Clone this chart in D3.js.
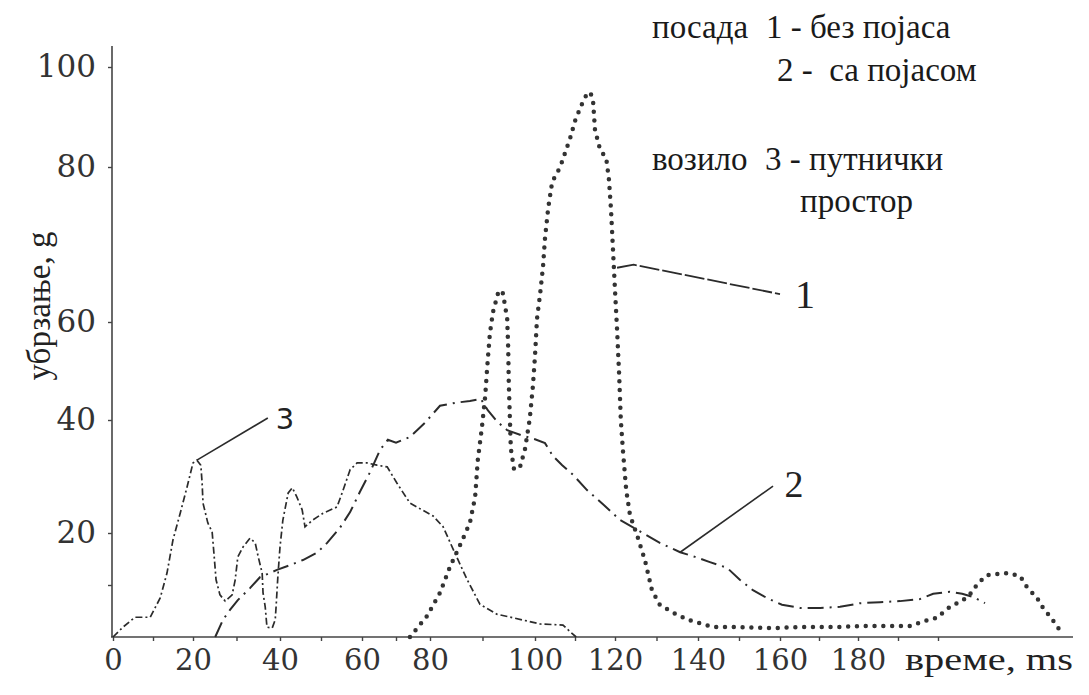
<!DOCTYPE html>
<html><head><meta charset="utf-8">
<script src="https://cdn.jsdelivr.net/npm/d3@7"></script>
<style>body{margin:0;background:#fff} svg{display:block}</style>
</head><body>
<svg id="chart" width="1089" height="695"></svg>
<script>
// ---------- data ----------
const xTicks = [0,10,20,30,40,50,60,70,80,90,100,110,120,130,140,150,160,170,180,190,200];
const xTickLabels = [0,20,40,60,80,100,120,140,160,180];
const yTicks = [10,20,40,60,80,100];
const yTickLabels = [20,40,60,80,100];
const xKnots = [0,20,40,60,80,100,120,140,160,180,200,230];
const yKnots = [0,20,40,60,80,100,104];

// series 1: crew without belt (time ms, acceleration g)
const crewNoBelt = [[74.1,0],[79.1,4.0],[81.9,8.5],[83.8,13.5],[86.1,18.5],[87.6,21.8],[88.6,26.4],[89.1,32.9],[89.9,38.8],[90.5,44.7],[90.9,50.8],[91.4,57.6],[92.0,61.3],[93.1,64.1],[93.9,63.7],[94.7,60.4],[94.9,54.5],[95.0,47.8],[95.2,40.8],[95.4,34.9],[96.0,31.3],[97.1,31.5],[98.1,34.9],[99.0,40.2],[99.6,46.9],[100,53.1],[100.5,60.4],[101.3,63.7],[102,67.1],[102.5,70.8],[103.3,74.7],[104.3,78.1],[106.3,80],[108.8,85.8],[110,89.2],[111.3,91.8],[112.5,94],[113.8,95],[114.5,93.4],[115,87.4],[116.3,83.4],[117.8,81.8],[118.5,78.3],[119,74.5],[119.5,69.3],[120,64.1],[120.5,58.4],[121,49.2],[121.4,40],[121.9,34.7],[122.7,27.6],[123.6,23.2],[125.3,19.6],[127.2,14.8],[128.9,9.0],[130.8,6.2],[133.7,4.8],[137.6,3.3],[143.7,1.9],[150.2,1.9],[157.6,1.7],[165.1,1.9],[174.1,1.9],[180.5,2.1],[186,2.1],[193,2.1],[196.8,3.1],[199.8,3.7],[202.1,5.4],[204.5,6.5],[207.1,7.7],[209.5,10.4],[211.6,11.9],[216.3,12.3],[219.4,11.7],[221.0,9.6],[223.4,7.5],[224.8,5.6],[226.9,3.5],[228.8,1.3]];

// series 2: crew with belt
const crewWithBelt = [[25.1,0],[26.9,3.3],[28.5,5.2],[30.3,7.1],[33.1,9.4],[35.4,11.5],[39.3,12.9],[42.4,13.8],[45.6,14.8],[49.0,16.2],[51.5,18.1],[54.6,20.9],[57.1,23.7],[59.5,27.3],[62.4,30.8],[65.3,34.7],[67.6,36.5],[70.0,36.0],[74.1,37.0],[78.5,39.5],[81.9,42.9],[84.8,43.5],[87.6,43.9],[89.7,44.3],[91.0,42.0],[92.7,39.8],[94.7,38.2],[97.7,37.2],[100,36.6],[102.5,35.9],[104.5,33.6],[106.8,32.0],[109.5,30.3],[113.0,27.6],[117,25.1],[121.2,22.3],[125.3,20.6],[130.8,18.1],[135.7,16.3],[139.3,15.4],[142.9,14.4],[147.1,13.3],[150.2,11.0],[153.4,9.0],[156.8,7.5],[160.5,6.2],[165.1,5.6],[170.3,5.6],[175.4,5.8],[180.5,6.5],[185.5,6.7],[190.5,6.9],[195.5,7.3],[198.8,8.3],[202.8,8.7],[205.7,8.3],[208.3,7.7],[211.1,6.5]];

// series 3: vehicle passenger compartment
const vehicleCompartment = [[0,0],[2.5,1.9],[5.5,3.8],[9.3,3.8],[11.8,7.5],[13.5,12.3],[15,18.7],[16.8,23.5],[18.5,28.1],[20,32.4],[20.9,32.9],[21.8,32.0],[22.1,28.8],[22.3,25.3],[23.4,21.8],[24.4,20.2],[24.8,16.2],[25.3,11.0],[26.2,8.1],[27.4,6.9],[29.0,8.1],[29.7,11.0],[30.3,15.4],[31.5,17.3],[33.1,19.0],[34.3,18.1],[35.0,15.4],[35.9,12.3],[36.1,8.5],[36.6,5.8],[37.0,1.9],[38.2,1.7],[38.9,3.3],[39.1,5.8],[39.5,11.5],[40,17.3],[40.7,22.3],[42,27.1],[43,28.0],[44.1,26.4],[45.4,24.1],[46.1,21.1],[48.0,22.3],[50.5,23.5],[53.9,24.6],[55.4,27.6],[57.1,31.2],[58.8,32.4],[61.5,32.4],[64.4,32.0],[67.4,31.7],[70.3,28.8],[74.1,25.3],[80.6,23.0],[82.5,21.1],[84.4,16.9],[87.0,11.2],[89.5,6.3],[92.7,4.4],[95.8,3.7],[101.3,2.5],[107,2.3],[108.8,1.0],[110.3,0]];

// annotation leaders (data coordinates)
const leader1 = [[120.5,67.0],[124.5,67.4],[160,63.6]];
const leader2 = [[135.7,16.3],[158.3,28.3]];
const leader3 = [[20.9,32.9],[37.2,40.4]];
const legendLines = [
  ["посада", "1 - без појаса"],
  ["", "2 -  са појасом"],
  ["возило", "3 - путнички"],
  ["", "простор"]
];

// ---------- drawing ----------
const svg = d3.select("#chart");
svg.append("rect").attr("width",1089).attr("height",695).attr("fill","#fff");

const x = d3.scaleLinear().domain(xKnots)
  .range([113,193,280,362,430,535,615,698,780,858,938,1065]);
const y = d3.scaleLinear().domain(yKnots)
  .range([637,533,420,322,167,67,46]);

const ink = "#2b2b2b";

// axes
const xAxis = d3.axisBottom(x).tickValues(xTicks)
  .tickFormat(d => xTickLabels.includes(d) ? d : "")
  .tickSize(4).tickSizeOuter(0).tickPadding(8);
const gx = svg.append("g").attr("transform",`translate(0,${y(0)})`).call(xAxis);
gx.select(".domain").attr("d",`M${x(0)-2},0H${x(230)+8}`).attr("stroke","#444").attr("stroke-width",1.6);
gx.selectAll(".tick line").attr("stroke","#444").attr("stroke-width",1.4);
gx.selectAll(".tick text").attr("font-family","DejaVu Serif").attr("font-size",29).attr("fill","#333");

const yAxis = d3.axisLeft(y).tickValues(yTicks)
  .tickFormat(d => yTickLabels.includes(d) ? d : "")
  .tickSize(4).tickSizeOuter(0).tickPadding(12);
const gy = svg.append("g").attr("transform",`translate(${x(0)-1},0)`).call(yAxis);
gy.select(".domain").attr("d",`M0,${y(0)}V${y(104)}`).attr("stroke","#444").attr("stroke-width",1.6);
gy.selectAll(".tick line").attr("stroke","#444").attr("stroke-width",1.4);
gy.selectAll(".tick text").attr("font-family","DejaVu Serif").attr("font-size",31).attr("fill","#333");

// axis titles
svg.append("text").attr("transform",`translate(50,306) rotate(-90)`)
  .attr("text-anchor","middle").attr("font-family","Liberation Serif").attr("font-size",33)
  .attr("fill","#222").text("убрзање, g");
svg.append("text").attr("x",905).attr("y",y(0)+33)
  .attr("font-family","Liberation Serif").attr("font-size",32).attr("fill","#222")
  .attr("textLength",168).attr("lengthAdjust","spacingAndGlyphs").text("време, ms");

// curves
const line = d3.line().x(d => x(d[0])).y(d => y(d[1])).curve(d3.curveLinear);

svg.append("path").datum(vehicleCompartment).attr("d",line)
  .attr("fill","none").attr("stroke",ink).attr("stroke-width",1.7)
  .attr("stroke-dasharray","7 3 2 3");

svg.append("path").datum(crewWithBelt).attr("d",line)
  .attr("fill","none").attr("stroke",ink).attr("stroke-width",2)
  .attr("stroke-dasharray","16 6 2 6");

svg.append("path").datum(crewNoBelt).attr("d",line)
  .attr("fill","none").attr("stroke","#333").attr("stroke-width",4.5)
  .attr("stroke-linecap","round").attr("stroke-dasharray","0 8.8");

// leaders
svg.append("path").datum(leader1).attr("d",line).attr("fill","none")
  .attr("stroke",ink).attr("stroke-width",1.8).attr("stroke-dasharray","20 3");
svg.append("path").datum(leader2).attr("d",line).attr("fill","none")
  .attr("stroke",ink).attr("stroke-width",1.6);
svg.append("path").datum(leader3).attr("d",line).attr("fill","none")
  .attr("stroke",ink).attr("stroke-width",1.6);

svg.append("text").attr("x",x(166.4)).attr("y",y(61.8)).attr("text-anchor","middle")
  .attr("font-family","Liberation Serif").attr("font-size",40).attr("fill","#222").text("1");
svg.append("text").attr("x",x(163.6)).attr("y",y(26.4)).attr("text-anchor","middle")
  .attr("font-family","Liberation Serif").attr("font-size",38).attr("fill","#222").text("2");
svg.append("text").attr("x",x(41.2)).attr("y",y(38.4)).attr("text-anchor","middle")
  .attr("font-family","DejaVu Sans").attr("font-size",29).attr("fill","#222").text("3");

// legend text block (top right)
const legendPos = [[652,766,38],[652,777,81],[652,765,170],[652,800,212]];
legendLines.forEach((l,i) => {
  const p = legendPos[i];
  if (l[0]) svg.append("text").attr("x",p[0]).attr("y",p[2]).attr("font-family","Liberation Serif")
    .attr("font-size",33).attr("fill","#1a1a1a").text(l[0]);
  svg.append("text").attr("x",p[1]).attr("y",p[2]).attr("font-family","Liberation Serif")
    .attr("font-size",33).attr("fill","#1a1a1a").style("white-space","pre").text(l[1]);
});
</script>
</body></html>
